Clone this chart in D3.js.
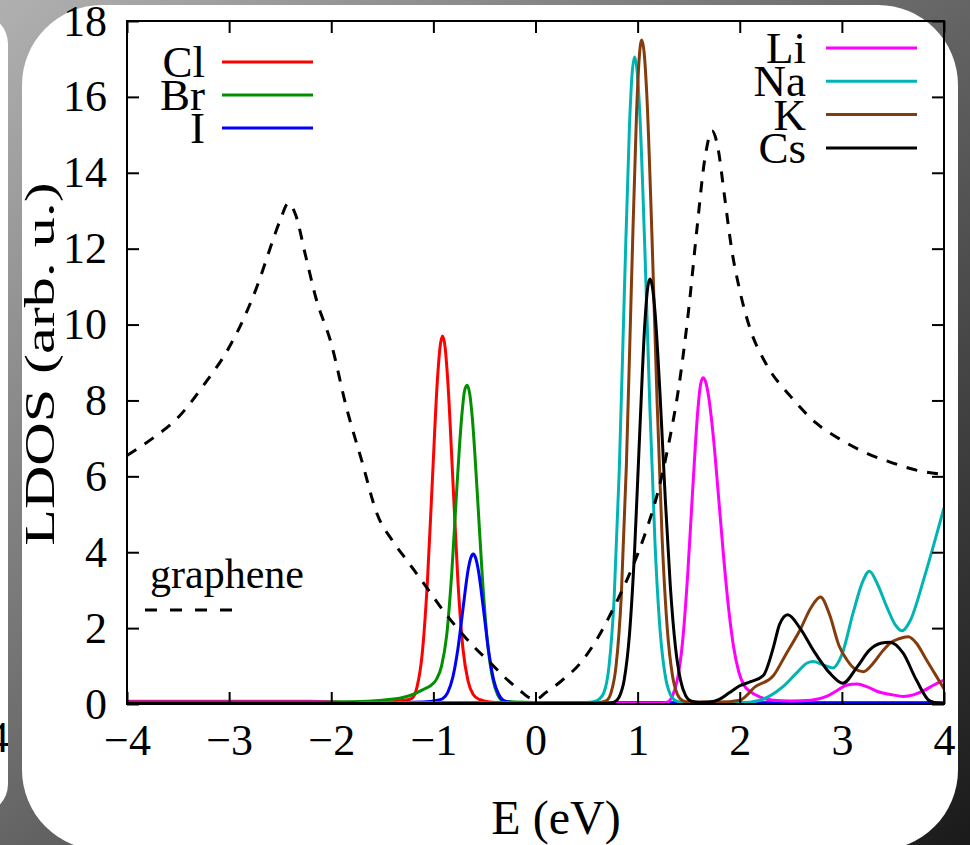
<!DOCTYPE html>
<html>
<head>
<meta charset="utf-8">
<script src="https://cdn.jsdelivr.net/npm/d3@7"></script>
<style>
  html, body { margin: 0; padding: 0; background: #222; }
  svg { display: block; }
  text { font-family: "Liberation Serif", "Times New Roman", serif; fill: #000; }
</style>
</head>
<body>
<svg id="chart" width="970" height="845"></svg>
<script>
// Axis ranges and ticks
const energyDomain = [-4, 4];
const ldosDomain = [0, 18];
const energyTicks = [-4, -3, -2, -1, 0, 1, 2, 3, 4];
const ldosTicks = [0, 2, 4, 6, 8, 10, 12, 14, 16, 18];

// Halogen adatoms: [E (eV), LDOS]
const ldosCl = [[-4,0.03],[-2,0.03],[-1.6,0.04],[-1.4,0.06],[-1.3,0.09],[-1.21,0.15],[-1.16,0.45],[-1.11,1.31],[-1.06,3.15],[-1.01,5.89],[-0.96,8.56],[-0.935,9.4],[-0.91,9.7],[-0.885,9.4],[-0.86,8.56],[-0.81,5.95],[-0.76,3.25],[-0.71,1.45],[-0.66,0.6],[-0.61,0.25],[-0.55,0.12],[-0.45,0.05],[-0.3,0.03],[0,0.02],[4,0.02]];
const ldosBr = [[-4,0.05],[-2.5,0.05],[-1.8,0.06],[-1.5,0.1],[-1.3,0.17],[-1.2,0.25],[-1.1,0.38],[-1.02,0.5],[-0.97,0.65],[-0.92,1.0],[-0.87,1.8],[-0.82,3.45],[-0.77,5.7],[-0.72,7.65],[-0.695,8.25],[-0.67,8.4],[-0.645,8.19],[-0.62,7.58],[-0.57,5.56],[-0.52,3.32],[-0.47,1.62],[-0.42,0.68],[-0.37,0.24],[-0.32,0.09],[-0.2,0.05],[0,0.04],[4,0.04]];
const ldosI = [[-4,0.03],[-1.5,0.03],[-1.1,0.05],[-0.96,0.1],[-0.91,0.14],[-0.86,0.3],[-0.81,0.7],[-0.76,1.45],[-0.71,2.51],[-0.66,3.53],[-0.635,3.84],[-0.61,3.95],[-0.585,3.84],[-0.56,3.53],[-0.51,2.51],[-0.46,1.42],[-0.41,0.64],[-0.36,0.25],[-0.31,0.09],[-0.2,0.03],[0,0.02],[4,0.02]];

// Alkali adatoms
const ldosLi = [[-4,0.07],[-2.2,0.07],[-1.8,0.02],[1.2,0.02],[1.29,0.05],[1.34,0.21],[1.39,0.65],[1.44,1.64],[1.49,3.4],[1.54,5.69],[1.59,7.76],[1.615,8.4],[1.64,8.6],[1.665,8.5],[1.69,8.19],[1.74,7.08],[1.79,5.54],[1.84,3.94],[1.89,2.54],[1.94,1.5],[1.99,0.85],[2.04,0.5],[2.1,0.33],[2.2,0.18],[2.33,0.1],[2.5,0.08],[2.7,0.1],[2.85,0.2],[2.95,0.35],[3.05,0.5],[3.15,0.53],[3.25,0.45],[3.35,0.33],[3.5,0.24],[3.6,0.2],[3.7,0.24],[3.8,0.35],[3.9,0.5],[4,0.63]];
const ldosNa = [[-4,0.01],[-1.8,0.01],[-1.7,0.04],[0.5,0.04],[0.57,0.06],[0.62,0.12],[0.67,0.3],[0.72,1.0],[0.77,2.78],[0.82,6.14],[0.87,10.83],[0.92,15.23],[0.945,16.57],[0.97,17.05],[0.995,16.68],[1.02,15.63],[1.07,12.05],[1.12,7.81],[1.17,4.25],[1.22,1.94],[1.27,0.75],[1.32,0.25],[1.37,0.09],[1.45,0.04],[1.6,0.03],[2.0,0.03],[2.2,0.1],[2.3,0.22],[2.42,0.45],[2.55,0.8],[2.66,1.08],[2.72,1.12],[2.8,1.05],[2.91,0.95],[3.0,1.3],[3.11,2.4],[3.2,3.2],[3.27,3.5],[3.35,3.15],[3.44,2.56],[3.52,2.1],[3.59,1.93],[3.67,2.2],[3.8,3.27],[3.9,4.2],[4,5.17]];
const ldosK = [[-4,0.05],[-2,0.05],[-1.7,0.02],[0.6,0.03],[0.69,0.08],[0.74,0.3],[0.79,1.03],[0.84,2.85],[0.89,6.3],[0.94,11.11],[0.99,15.63],[1.015,17.01],[1.04,17.5],[1.065,17.13],[1.09,16.05],[1.14,12.37],[1.19,8.02],[1.24,4.36],[1.29,2.0],[1.34,0.77],[1.39,0.25],[1.44,0.09],[1.5,0.05],[1.8,0.05],[2.0,0.1],[2.15,0.45],[2.33,0.75],[2.45,1.3],[2.59,1.95],[2.7,2.55],[2.79,2.82],[2.88,2.35],[2.97,1.55],[3.05,1.16],[3.13,0.92],[3.21,0.85],[3.3,1.05],[3.4,1.4],[3.47,1.6],[3.56,1.72],[3.65,1.77],[3.73,1.6],[3.82,1.2],[3.91,0.8],[4,0.4]];
const ldosCs = [[-4,0.01],[0.7,0.01],[0.77,0.05],[0.82,0.19],[0.87,0.66],[0.92,1.83],[0.97,4.03],[1.02,7.11],[1.07,10.0],[1.095,10.89],[1.12,11.2],[1.145,10.98],[1.17,10.34],[1.22,8.13],[1.27,5.45],[1.32,3.11],[1.37,1.51],[1.42,0.63],[1.47,0.22],[1.52,0.08],[1.6,0.04],[1.7,0.05],[1.8,0.12],[1.9,0.3],[2.0,0.48],[2.1,0.58],[2.23,0.75],[2.33,1.5],[2.39,2.1],[2.47,2.35],[2.59,2.0],[2.72,1.42],[2.88,0.82],[3.01,0.55],[3.15,0.98],[3.27,1.42],[3.38,1.6],[3.47,1.63],[3.6,1.34],[3.73,0.63],[3.86,0.08],[3.95,0.02],[4,0.01]];

// Pristine graphene DOS
const ldosGraphene = [[-4,6.55],[-3.75,7.0],[-3.5,7.55],[-3.25,8.4],[-3.0,9.4],[-2.85,10.2],[-2.7,11.2],[-2.6,12.0],[-2.5,12.75],[-2.42,13.2],[-2.35,12.9],[-2.25,11.8],[-2.15,10.7],[-2.0,9.5],[-1.85,7.8],[-1.7,6.4],[-1.55,5.0],[-1.4,4.3],[-1.25,3.75],[-1.1,3.2],[-0.9,2.45],[-0.75,1.95],[-0.6,1.5],[-0.44,1.08],[-0.3,0.7],[-0.15,0.35],[-0.05,0.15],[0,0.12],[0.1,0.3],[0.25,0.6],[0.44,1.08],[0.6,1.7],[0.75,2.45],[0.9,3.3],[1.0,3.95],[1.1,4.7],[1.2,5.6],[1.3,6.8],[1.4,8.3],[1.5,10.4],[1.58,12.5],[1.66,14.4],[1.73,15.1],[1.79,14.6],[1.85,13.4],[1.92,12.0],[2.0,10.9],[2.1,9.9],[2.25,9.0],[2.5,8.1],[2.75,7.4],[3.0,6.95],[3.25,6.6],[3.5,6.35],[3.75,6.15],[4,6.05]];

// Series names and colours
const halogenNames = ["Cl", "Br", "I"];
const halogenColors = ["#ff0000", "#009000", "#0000ff"];
const alkaliNames = ["Li", "Na", "K", "Cs"];
const alkaliColors = ["#ff00ff", "#00b4b4", "#843c0c", "#000000"];
const grapheneLabel = "graphene";

const series = [
  { name: "Cl", color: halogenColors[0], values: ldosCl },
  { name: "Br", color: halogenColors[1], values: ldosBr },
  { name: "I",  color: halogenColors[2], values: ldosI },
  { name: "Li", color: alkaliColors[0], values: ldosLi },
  { name: "Na", color: alkaliColors[1], values: ldosNa },
  { name: "K",  color: alkaliColors[2], values: ldosK },
  { name: "Cs", color: alkaliColors[3], values: ldosCs }
];

const W = 970, H = 845;
const plot = { left: 127, right: 944, top: 21, bottom: 704 };
const svg = d3.select("#chart");
const defs = svg.append("defs");

// Backdrop: grey gradient with two rounded white cards
const grad = defs.append("linearGradient").attr("id", "bg")
  .attr("x1", 0).attr("y1", 0).attr("x2", 1).attr("y2", 1);
grad.append("stop").attr("offset", "0%").attr("stop-color", "#b0b0b0");
grad.append("stop").attr("offset", "45%").attr("stop-color", "#6c6c6c");
grad.append("stop").attr("offset", "100%").attr("stop-color", "#1a1a1a");
svg.append("rect").attr("width", W).attr("height", H).attr("fill", "url(#bg)");

defs.append("clipPath").attr("id", "prevCard").append("rect")
  .attr("x", -70).attr("y", 14).attr("width", 78).attr("height", 800).attr("rx", 30);
const prev = svg.append("g").attr("clip-path", "url(#prevCard)");
prev.append("rect").attr("x", -70).attr("y", 14).attr("width", 78).attr("height", 800).attr("fill", "#fff");
prev.append("text").attr("x", -13).attr("y", 752).attr("font-size", 44).text("4");

svg.append("rect").attr("x", 22).attr("y", 5).attr("width", 936).attr("height", 845)
  .attr("rx", 80).attr("fill", "#fff");

// Scales
const x = d3.scaleLinear().domain(energyDomain).range([plot.left, plot.right]);
const y = d3.scaleLinear().domain(ldosDomain).range([plot.bottom, plot.top]);

defs.append("clipPath").attr("id", "plotArea").append("rect")
  .attr("x", plot.left).attr("y", plot.top)
  .attr("width", plot.right - plot.left).attr("height", plot.bottom - plot.top);

const line = d3.line().x(d => x(d[0])).y(d => y(d[1])).curve(d3.curveMonotoneX);

const curves = svg.append("g").attr("clip-path", "url(#plotArea)");
series.forEach(s => {
  curves.append("path").datum(s.values)
    .attr("fill", "none").attr("stroke", s.color).attr("stroke-width", 3)
    .attr("stroke-linejoin", "round").attr("d", line);
});
curves.append("path").datum(ldosGraphene)
  .attr("fill", "none").attr("stroke", "#000").attr("stroke-width", 3)
  .attr("stroke-dasharray", "11,10").attr("d", line);

// Axes with inward ticks on all four sides
const tickLen = 12;
function styleAxis(g, fontSize) {
  g.select(".domain").remove();
  g.selectAll(".tick line").attr("stroke", "#000").attr("stroke-width", 2);
  g.selectAll(".tick text").attr("font-size", fontSize)
    .attr("font-family", "Liberation Serif, Times New Roman, serif").attr("fill", "#000");
}
svg.append("g").attr("transform", `translate(0,${plot.bottom})`)
  .call(d3.axisBottom(x).tickValues(energyTicks).tickSizeInner(-tickLen).tickSizeOuter(0).tickPadding(20))
  .call(g => styleAxis(g, 44));
svg.append("g").attr("transform", `translate(0,${plot.top})`)
  .call(d3.axisTop(x).tickValues(energyTicks).tickSizeInner(-tickLen).tickSizeOuter(0).tickFormat(""))
  .call(g => styleAxis(g, 44));
svg.append("g").attr("transform", `translate(${plot.left},0)`)
  .call(d3.axisLeft(y).tickValues(ldosTicks).tickSizeInner(-tickLen).tickSizeOuter(0).tickPadding(20))
  .call(g => styleAxis(g, 44));
svg.append("g").attr("transform", `translate(${plot.right},0)`)
  .call(d3.axisRight(y).tickValues(ldosTicks).tickSizeInner(-tickLen).tickSizeOuter(0).tickFormat(""))
  .call(g => styleAxis(g, 44));

svg.append("rect").attr("x", plot.left).attr("y", plot.top)
  .attr("width", plot.right - plot.left).attr("height", plot.bottom - plot.top)
  .attr("fill", "none").attr("stroke", "#000").attr("stroke-width", 2);

// Axis titles (the y title is set in a condensed, elongated face)
svg.append("text").attr("x", 556).attr("y", 834)
  .attr("text-anchor", "middle").attr("font-size", 48).text("E (eV)");
svg.append("text").attr("transform", "translate(54,364) rotate(-90) scale(1.43,1)")
  .attr("text-anchor", "middle").attr("font-size", 42).text("LDOS (arb. u.)");

// Legends
function legend(names, colors, textRight, lineX0, lineX1, y0, dy) {
  names.forEach((n, i) => {
    const yy = y0 + i * dy;
    svg.append("text").attr("x", textRight).attr("y", yy + 15)
      .attr("text-anchor", "end").attr("font-size", 45).text(n);
    svg.append("line").attr("x1", lineX0).attr("x2", lineX1).attr("y1", yy).attr("y2", yy)
      .attr("stroke", colors[i]).attr("stroke-width", 3);
  });
}
legend(halogenNames, halogenColors, 205, 222, 313, 62, 33);
legend(alkaliNames, alkaliColors, 806, 826, 917, 48, 33.3);

svg.append("text").attr("x", 150).attr("y", 588).attr("font-size", 42).text(grapheneLabel);
svg.append("line").attr("x1", 145).attr("x2", 232).attr("y1", 610).attr("y2", 610)
  .attr("stroke", "#000").attr("stroke-width", 3).attr("stroke-dasharray", "12,13");
</script>
</body>
</html>
